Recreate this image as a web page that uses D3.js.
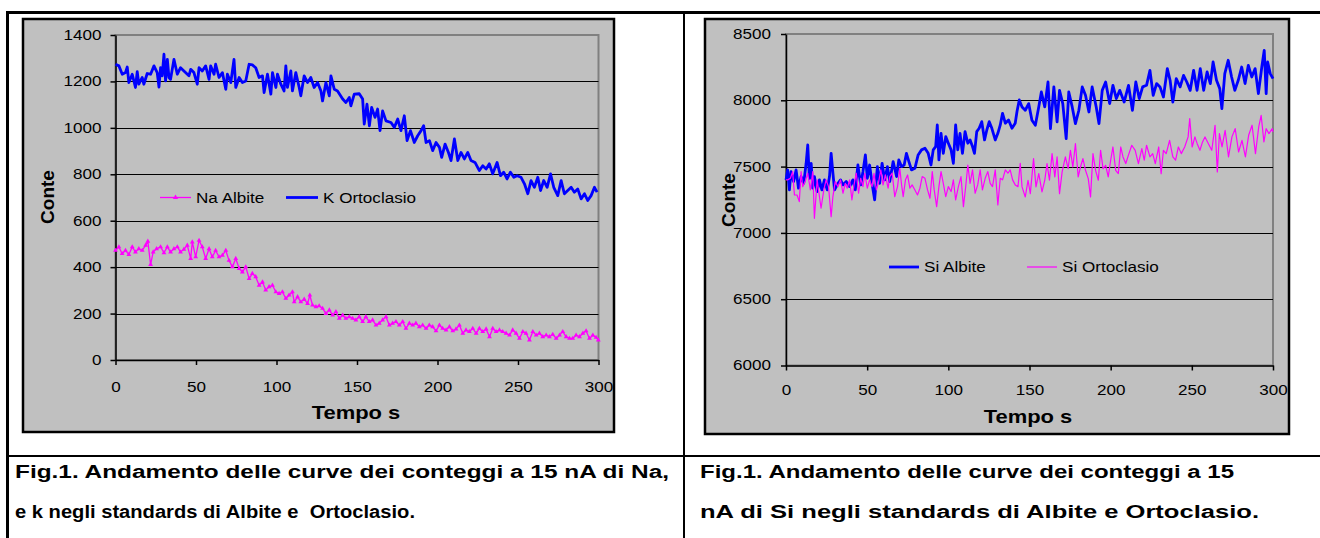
<!DOCTYPE html>
<html>
  <head>
    <meta charset="utf-8" />
    <title>Conteggi Na, K, Si</title>
    <script src="https://d3js.org/d3.v7.min.js"></script>
    <style>
      body { margin: 0; background: #fff; }
      svg text { font-family: "Liberation Sans", Arial, sans-serif; fill: #000; }
    </style>
  </head>
  <body>
    <svg id="page" width="1320" height="538"></svg>

    <script>
      // [tempo s, conte]
      var naAlbite = [[0,472],[2.1,487],[4.1,458],[6.2,472],[8.3,454],[10.4,487],[12.4,465],[14.5,479],[16.6,472],[18.7,494],[20.1,511],[21.8,411],[23.4,465],[25.5,479],[28,487],[30.1,462],[32.2,487],[34.2,465],[36.3,479],[38.4,487],[40.4,465],[42.5,477],[44.6,494],[46.7,437],[47.7,508],[49.8,444],[51.9,515],[53.9,487],[56,437],[58.1,479],[60.1,444],[62.2,472],[64.3,444],[66.4,451],[68.5,472],[70.5,429],[72.6,401],[74.7,437],[76.8,394],[78.8,379],[80.9,401],[83,351],[85,372],[87.1,358],[89.2,322],[91.3,336],[93.3,301],[95.4,315],[97.5,322],[99.6,293],[101.6,286],[103.7,293],[105.8,265],[107.8,279],[109.9,293],[111,250],[113.1,272],[115.1,250],[117.2,262],[119.3,243],[120.7,279],[122.4,236],[124.5,229],[126.5,233],[128.6,222],[130.7,200],[132.8,215],[134.9,193],[136.9,208],[139,179],[141.1,193],[143.1,179],[145.2,186],[147.3,179],[149.3,172],[151.4,186],[153.5,165],[155.5,186],[157.6,165],[159.7,172],[161.8,150],[163.8,158],[165.9,172],[168,186],[170.1,150],[172.1,158],[174.2,165],[176.3,150],[178.4,165],[180.4,136],[182.5,158],[184.6,150],[186.6,158],[188.7,143],[190.8,150],[192.9,136],[194.9,150],[197,143],[199.1,125],[201.2,150],[203.2,136],[205.3,129],[207.4,143],[209.5,125],[211.5,133],[213.6,150],[215.7,115],[217.7,129],[219.8,122],[221.9,136],[224,115],[226,136],[228.1,122],[230.2,133],[232.3,100],[234.3,136],[236.4,122],[238.5,129],[240.5,122],[242.6,115],[244.7,107],[246.7,129],[248.8,115],[250.9,93],[253,122],[255,115],[257.1,86],[259.2,122],[261.3,107],[263.3,115],[265.4,100],[267.5,107],[269.5,100],[271.6,110],[273.7,93],[275.8,107],[277.8,122],[279.9,100],[282,93],[284,93],[286.1,107],[288.2,100],[290.3,115],[292.3,125],[294.4,93],[296.5,107],[298.5,97],[299.9,86]];

      var kOrtoclasio = [[0,1274],[2.1,1267],[4.2,1231],[6.2,1238],[7.3,1262],[8.3,1195],[10.4,1231],[12.4,1174],[13.5,1242],[14.5,1188],[16.6,1217],[17.6,1188],[19.7,1234],[21.8,1231],[23.9,1267],[25.9,1238],[27,1176],[28,1259],[29,1224],[30.1,1317],[31.1,1202],[32.2,1295],[33.2,1217],[34.2,1209],[36.3,1295],[38.4,1231],[40.4,1259],[42.5,1245],[45.6,1224],[46.7,1252],[48.7,1238],[50.8,1188],[51.9,1259],[53.9,1245],[56,1267],[58.1,1209],[59.1,1267],[61.2,1231],[62.2,1274],[64.3,1217],[66.4,1238],[68.5,1166],[69.5,1231],[71.6,1195],[73.6,1295],[74.7,1174],[76.8,1217],[78.8,1195],[80.9,1202],[83,1274],[85,1271],[87.1,1259],[89.2,1217],[91.3,1224],[92.3,1152],[94.4,1231],[96.5,1145],[97.5,1238],[99.6,1174],[100.6,1231],[102.7,1188],[104.7,1159],[105.8,1267],[106.8,1174],[108.9,1245],[109.9,1159],[112,1238],[114.1,1174],[115.1,1138],[117.2,1224],[119.3,1195],[121.3,1217],[123.4,1174],[125.5,1195],[127.6,1159],[128.6,1116],[130.7,1195],[132.8,1138],[133.8,1224],[135.9,1166],[137.9,1159],[141.1,1124],[143.1,1109],[145.2,1131],[146.2,1095],[148.3,1145],[151.4,1147],[153.5,1124],[154.5,1016],[156.2,1102],[157.7,1009],[159.1,1088],[161.2,1045],[162.8,1081],[164.3,988],[165.9,1073],[168,1030],[171.1,1023],[173.2,1002],[175.3,1038],[177.3,988],[179.4,1052],[181.1,945],[183.2,988],[185.6,937],[187.7,966],[189.8,988],[191.4,1009],[192.9,937],[195,945],[197,902],[199.1,937],[201.2,916],[202.6,873],[204.7,930],[206.8,894],[208.4,859],[210.5,952],[212.6,859],[214.6,894],[216.7,866],[218.8,894],[220.8,859],[223.3,851],[226,816],[228.1,837],[230.2,823],[232.2,845],[234.3,802],[237,851],[239.1,794],[241.1,809],[243.2,780],[245.3,809],[247.4,787],[249.4,794],[251.9,787],[254,759],[256.1,716],[258.1,773],[260.2,744],[262.3,787],[264,730],[266,773],[268.1,744],[270.2,802],[272.2,744],[274.7,708],[276.8,773],[278.8,716],[280.9,730],[283,744],[285,723],[287.1,737],[289.2,694],[291.3,716],[293.3,687],[295.4,708],[297.5,744],[299.1,723]];

      var siAlbite = [[0,7400],[1,7475],[2.1,7324],[3.1,7462],[4.7,7387],[6.2,7475],[7.7,7337],[9.3,7425],[10.9,7374],[12.4,7525],[13.4,7663],[14.4,7412],[15.5,7525],[16.5,7337],[17.5,7425],[19.2,7312],[20.6,7400],[22.1,7324],[23.7,7400],[25.4,7324],[26.8,7425],[27.8,7600],[28.9,7450],[29.9,7324],[32,7374],[33.6,7400],[35.1,7362],[37.1,7387],[39.2,7349],[41.2,7400],[42.7,7324],[44.3,7512],[46,7362],[47.4,7462],[48.9,7588],[50.1,7412],[51.5,7512],[53,7374],[54.6,7249],[56.3,7500],[57.7,7374],[59.2,7525],[60.8,7400],[62.5,7500],[63.9,7387],[66,7538],[68.1,7425],[69.5,7550],[71.2,7500],[72.8,7512],[74.2,7600],[75.7,7538],[77.3,7475],[79.4,7487],[81.4,7588],[83.5,7626],[85.6,7638],[87.6,7600],[89.3,7512],[90.7,7626],[92.2,7651],[93.2,7814],[94.2,7550],[95.5,7751],[96.9,7600],[98.4,7726],[100,7676],[101.7,7626],[103.1,7525],[104.5,7814],[105.8,7626],[107.2,7751],[108.7,7600],[110.3,7764],[112,7676],[113.4,7701],[114.9,7651],[116.1,7600],[117.5,7764],[119,7789],[120.6,7839],[122.3,7701],[123.7,7776],[125.2,7839],[126.8,7789],[128.9,7701],[130.5,7751],[132,7814],[133.4,7902],[135.1,7827],[137.1,7852],[139.2,7789],[141.2,7827],[142.3,7915],[143.7,8003],[145.4,7950],[147.4,7925],[149.5,7975],[151.5,7849],[153.6,7812],[155.7,7950],[157.3,8063],[159.4,7950],[161.4,8138],[162.9,7786],[165,8101],[167,7837],[168.5,8075],[170.5,7975],[172.6,7711],[174.2,8063],[176.3,7950],[178.3,7824],[180.4,7925],[182.5,8101],[184.5,8038],[186.6,7912],[188.6,8101],[191.1,7950],[192.8,7824],[194.8,8075],[196.9,8138],[199.4,7975],[201.4,8113],[203.5,8013],[205.6,8075],[208.3,7987],[211,8113],[213.4,7925],[215.5,8138],[217.6,8013],[219.7,8101],[222.1,8113],[224.2,8226],[226.2,8038],[228.3,8126],[230.4,8101],[232.5,8025],[234.9,8239],[236.6,8151],[238.3,7987],[240.4,8163],[242.8,8101],[244.9,8188],[246.9,8138],[249,8075],[251.1,8226],[253.2,8075],[255.2,8239],[257.3,8075],[259.4,8214],[261.4,8126],[263.1,8289],[265.2,8151],[267.2,8088],[268.5,7937],[270.3,8201],[272.4,8302],[274.5,8176],[276.5,8075],[278.6,8151],[280.7,8251],[282.8,8126],[284.8,8264],[286.9,8176],[289,8239],[291,8050],[293.1,8251],[294.6,8377],[295.8,8050],[296.7,8289],[298.3,8201],[300,8163]];

      var siOrtoclasio = [[0,7400],[1,7400],[2.7,7412],[4.1,7462],[5.2,7286],[6.8,7286],[8.2,7236],[9.3,7462],[10.3,7349],[11.8,7387],[13.4,7450],[15,7324],[16.5,7462],[17.5,7110],[19.2,7400],[20.6,7274],[21.6,7186],[23.3,7324],[24.7,7400],[26.2,7349],[27.8,7123],[28.9,7274],[30.3,7387],[32,7349],[33.6,7400],[35.1,7299],[36.5,7374],[37.7,7337],[39.2,7400],[40.6,7249],[41.9,7362],[43.3,7450],[44.7,7299],[46,7412],[47.4,7349],[48.5,7450],[50.1,7337],[51.5,7400],[53,7349],[54.2,7450],[55.7,7324],[57.1,7387],[58.4,7475],[59.8,7362],[61.2,7437],[62.9,7337],[63.9,7425],[65.4,7450],[67,7274],[68.7,7349],[70.1,7487],[71.2,7362],[72.2,7274],[73.6,7400],[74.9,7437],[76.3,7337],[77.7,7362],[79.4,7324],[81,7286],[82.5,7337],[83.9,7425],[85.6,7412],[87.2,7324],[88.7,7261],[90.1,7462],[91.3,7324],[92.8,7198],[94.2,7349],[95.5,7462],[96.9,7374],[98.4,7274],[100,7349],[101.7,7312],[103.1,7400],[104.5,7249],[106.2,7349],[107.8,7425],[109.3,7198],[110.7,7349],[112,7512],[113.4,7374],[114.9,7475],[116.5,7299],[118.1,7362],[119.6,7475],[121,7324],[122.7,7412],[124.3,7462],[125.8,7374],[127.2,7349],[128.9,7475],[130.5,7211],[132,7412],[133.4,7400],[135.1,7475],[136.7,7450],[138.1,7475],[139.6,7400],[141.2,7362],[142.9,7349],[144.3,7525],[145.4,7347],[147.4,7271],[149.1,7397],[150.5,7296],[152.5,7560],[154,7347],[155.7,7447],[157.7,7309],[159.4,7397],[160.8,7523],[162.3,7397],[163.9,7598],[165.6,7422],[167,7573],[168.5,7296],[170.1,7460],[172.1,7573],[173.8,7485],[175.2,7623],[176.7,7497],[178.3,7673],[180,7422],[181.4,7497],[182.9,7560],[184.5,7472],[186.2,7409],[187.6,7271],[189.1,7598],[190.7,7472],[192.4,7397],[193.8,7623],[195.3,7485],[196.9,7510],[198.5,7422],[200,7548],[201.4,7648],[203.1,7472],[204.7,7447],[206.2,7648],[207.6,7573],[209.3,7523],[210.9,7585],[213,7661],[215.1,7623],[217.1,7523],[219.2,7636],[220.7,7548],[222.1,7661],[224.2,7573],[225.9,7598],[227.5,7523],[229.6,7648],[231.1,7447],[232.5,7623],[234.2,7598],[236.3,7698],[238.3,7573],[240,7548],[241.7,7648],[243.5,7598],[245.6,7648],[247.7,7724],[248.7,7862],[250.2,7648],[251.9,7724],[253.3,7673],[255,7623],[256.6,7686],[258.1,7724],[260.2,7673],[262.3,7623],[264.3,7812],[265.7,7460],[267,7749],[268.6,7648],[270.5,7774],[272.6,7573],[274.7,7724],[276.7,7786],[278.8,7610],[280.9,7698],[283,7573],[285,7736],[287.1,7812],[289.2,7598],[291.2,7799],[292.7,7887],[294.4,7686],[295.8,7786],[297.5,7749],[299.5,7786],[300,7761]];

      var xTicks = [0, 50, 100, 150, 200, 250, 300];
      var yTicksLeft = [0, 200, 400, 600, 800, 1000, 1200, 1400];
      var yTicksRight = [6000, 6500, 7000, 7500, 8000, 8500];

      var captionLeft = ["Fig.1. Andamento delle curve dei conteggi a 15 nA di Na,", "e k negli standards di Albite e  Ortoclasio."];
      var captionRight = ["Fig.1. Andamento delle curve dei conteggi a 15", "nA di Si negli standards di Albite e Ortoclasio."];

      var svg = d3.select("#page");
      var STRETCH = 1.22;   // the text in the picture is a bit wider than Arial

      function stretch(sel, k) {
        sel.each(function() {
          var w = this.getComputedTextLength();
          d3.select(this).attr("textLength", w * k).attr("lengthAdjust", "spacingAndGlyphs");
        });
      }

      // table lines round the two charts and captions
      var table = svg.append("g").attr("stroke", "#000");
      table.append("line").attr("x1", 6).attr("x2", 1320).attr("y1", 12.5).attr("y2", 12.5).attr("stroke-width", 3);
      table.append("line").attr("x1", 7.5).attr("x2", 7.5).attr("y1", 11).attr("y2", 538).attr("stroke-width", 3);
      table.append("line").attr("x1", 684).attr("x2", 684).attr("y1", 11).attr("y2", 538).attr("stroke-width", 2);
      table.append("line").attr("x1", 6).attr("x2", 1320).attr("y1", 456).attr("y2", 456).attr("stroke-width", 2);

      function drawChart(c) {
        var g = svg.append("g");
        g.append("clipPath").attr("id", c.id + "-clip")
          .append("rect").attr("x", c.box[0]).attr("y", c.box[1]).attr("width", c.box[2]).attr("height", c.box[3]);
        var inner = g.append("g").attr("clip-path", "url(#" + c.id + "-clip)");

        inner.append("rect")
          .attr("x", c.box[0]).attr("y", c.box[1]).attr("width", c.box[2]).attr("height", c.box[3])
          .attr("fill", "#C0C0C0");

        var x = d3.scaleLinear().domain([0, 300]).range([c.plot[0], c.plot[1]]);
        var y = d3.scaleLinear().domain(c.yDomain).range([c.plot[3], c.plot[2]]);

        // plot area border (grey on top and right)
        inner.append("rect")
          .attr("x", c.plot[0]).attr("y", c.plot[2])
          .attr("width", c.plot[1] - c.plot[0]).attr("height", c.plot[3] - c.plot[2])
          .attr("fill", "none").attr("stroke", "#808080").attr("stroke-width", 2);

        // gridlines
        inner.append("g").selectAll("line")
          .data(c.yTicks.slice(1, -1))
          .join("line")
          .attr("x1", c.plot[0]).attr("x2", c.plot[1])
          .attr("y1", function(d) { return Math.round(y(d)) + 0.5; })
          .attr("y2", function(d) { return Math.round(y(d)) + 0.5; })
          .attr("stroke", "#000").attr("stroke-width", 1.2);

        // axes
        var yAxis = inner.append("g")
          .attr("transform", "translate(" + c.plot[0] + ",0)")
          .call(d3.axisLeft(y).tickValues(c.yTicks).tickSize(5).tickSizeOuter(0).tickPadding(c.yPad)
            .tickFormat(d3.format("d")));
        var xAxis = inner.append("g")
          .attr("transform", "translate(0," + c.plot[3] + ")")
          .call(d3.axisBottom(x).tickValues(xTicks).tickSize(5).tickSizeOuter(0).tickPadding(c.xPad)
            .tickFormat(d3.format("d")));
        [yAxis, xAxis].forEach(function(a) {
          a.selectAll("path, line").attr("stroke", "#000").attr("stroke-width", 1.5);
          a.selectAll("text").attr("font-size", 14).attr("font-family", "Liberation Sans, Arial, sans-serif")
            .attr("fill", "#000");
          stretch(a.selectAll("text"), STRETCH);
        });

        // series
        var line = d3.line()
          .x(function(d) { return x(d[0]); })
          .y(function(d) { return y(d[1]); });
        c.series.forEach(function(s) {
          inner.append("path")
            .datum(s.data)
            .attr("d", line)
            .attr("fill", "none")
            .attr("stroke", s.color)
            .attr("stroke-width", s.width)
            .attr("stroke-linejoin", "round");
          if (s.marker) {
            inner.append("g").selectAll("path")
              .data(s.data)
              .join("path")
              .attr("d", d3.symbol(d3.symbolTriangle, 10))
              .attr("transform", function(d) { return "translate(" + x(d[0]) + "," + y(d[1]) + ")"; })
              .attr("fill", s.color);
          }
        });

        // legend
        c.legend.forEach(function(l) {
          var s = c.series[l.series];
          inner.append("line")
            .attr("x1", l.x1).attr("x2", l.x2).attr("y1", l.y).attr("y2", l.y)
            .attr("stroke", s.color).attr("stroke-width", s.width);
          if (s.marker) {
            inner.append("path")
              .attr("d", d3.symbol(d3.symbolTriangle, 12))
              .attr("transform", "translate(" + (l.x1 + l.x2) / 2 + "," + l.y + ")")
              .attr("fill", s.color);
          }
          var t = inner.append("text")
            .attr("x", l.x2 + 5).attr("y", l.y + 5)
            .attr("font-size", 14)
            .text(s.name);
          stretch(t, STRETCH);
        });

        // axis titles
        inner.append("text")
          .attr("transform", "translate(" + c.yTitle[0] + "," + c.yTitle[1] + ") rotate(-90)")
          .attr("text-anchor", "middle")
          .attr("font-size", 19).attr("font-weight", "bold")
          .text("Conte");
        var xt = inner.append("text")
          .attr("x", c.xTitle[0]).attr("y", c.xTitle[1])
          .attr("text-anchor", "middle")
          .attr("font-size", 18).attr("font-weight", "bold")
          .text("Tempo s");
        stretch(xt, STRETCH);

        // chart frame
        g.append("rect")
          .attr("x", c.box[0]).attr("y", c.box[1]).attr("width", c.box[2]).attr("height", c.box[3])
          .attr("fill", "none").attr("stroke", "#000").attr("stroke-width", 2.5);
      }

      drawChart({
        id: "left",
        box: [23, 19, 591, 413],
        plot: [115.5, 598.5, 35, 360],
        yDomain: [0, 1400],
        yTicks: yTicksLeft,
        yPad: 9, xPad: 17,
        yTitle: [54, 197],
        xTitle: [356, 419],
        series: [
          { name: "Na Albite", data: naAlbite, color: "#FF00FF", width: 1.3, marker: true },
          { name: "K Ortoclasio", data: kOrtoclasio, color: "#0000FF", width: 2.8 }
        ],
        legend: [
          { series: 0, x1: 160, x2: 191, y: 197.5 },
          { series: 1, x1: 286, x2: 318, y: 197.5 }
        ]
      });

      drawChart({
        id: "right",
        box: [705, 19, 584, 415],
        plot: [786, 1273, 34, 365.5],
        yDomain: [6000, 8500],
        yTicks: yTicksRight,
        yPad: 10, xPad: 15,
        yTitle: [735, 200],
        xTitle: [1028, 423],
        series: [
          { name: "Si Albite", data: siAlbite, color: "#0000FF", width: 2.8 },
          { name: "Si Ortoclasio", data: siOrtoclasio, color: "#FF00FF", width: 1.2 }
        ],
        legend: [
          { series: 0, x1: 889, x2: 919, y: 267 },
          { series: 1, x1: 1027, x2: 1057, y: 267 }
        ]
      });

      // captions
      function caption(lines, x, widths) {
        lines.forEach(function(txt, i) {
          svg.append("text")
            .attr("x", x).attr("y", 478 + i * 40)
            .attr("font-size", 18).attr("font-weight", "bold")
            .style("white-space", "pre")
            .attr("textLength", widths[i]).attr("lengthAdjust", "spacingAndGlyphs")
            .text(txt);
        });
      }
      caption(captionLeft, 15, [654, 400]);
      caption(captionRight, 700, [534, 559]);
    </script>
  </body>
</html>
